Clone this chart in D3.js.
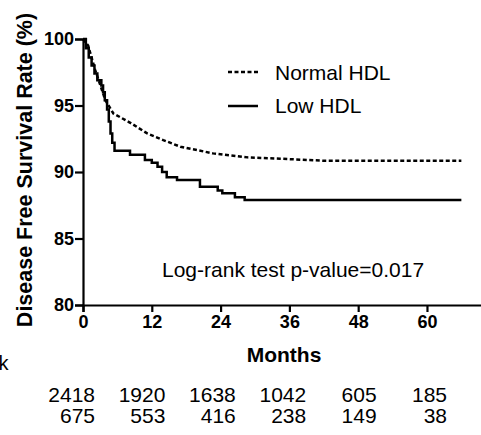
<!DOCTYPE html>
<html>
<head>
<meta charset="utf-8">
<script src="https://cdn.jsdelivr.net/npm/d3@7"></script>
<style>
  body { margin: 0; background: #fff; }
  text { font-family: "Liberation Sans", Arial, sans-serif; fill: #000; }
</style>
</head>
<body>
<div id="chart"></div>
<script>
// Kaplan-Meier curves: [month, survival %]
const lowHDL = [
  [0, 100], [0.5, 99.3], [1.0, 98.6], [1.5, 98.0], [2.0, 97.4], [2.5, 96.9],
  [3.2, 96.5], [3.5, 96.0], [3.8, 95.4], [4.2, 94.7], [4.5, 93.8], [4.8, 92.9],
  [5.1, 92.2], [5.5, 91.6], [8.2, 91.3], [10.8, 90.9], [12.0, 90.7], [13.0, 90.4],
  [13.8, 90.0], [14.6, 89.6], [16.4, 89.4], [20.4, 88.9], [23.5, 88.6], [24.3, 88.4],
  [26.5, 88.1], [28.2, 87.9], [66, 87.9]
];
const normalHDL = [
  [0, 100], [0.9, 99.5], [2.1, 97.7], [3.9, 95.4], [5.3, 94.4], [8.25, 93.7],
  [11.2, 92.9], [14.0, 92.4], [17.0, 91.9], [22.7, 91.4], [28.7, 91.1],
  [34.4, 91.0], [41.9, 90.85], [66, 90.85]
];

const xTicks = [0, 12, 24, 36, 48, 60];
const yTicks = [80, 85, 90, 95, 100];
const riskNormal = [2418, 1920, 1638, 1042, 605, 185];
const riskLow = [675, 553, 416, 238, 149, 38];
const seriesNames = ["Normal HDL", "Low HDL"];

let svg_width = 481;
let svg_height = 435;

let svg = d3.select("#chart")
  .append("svg")
  .attr("width", svg_width)
  .attr("height", svg_height);

// scales
let x = d3.scaleLinear().domain([0, 70]).range([83, 484.3]);
let y = d3.scaleLinear().domain([80, 100]).range([305, 39]);
// risk table columns (right aligned)
let xRisk = d3.scaleLinear().domain([0, 60]).range([95, 447]);

// axes
let xAxis = d3.axisBottom(x).tickValues(xTicks).tickSizeOuter(0).tickSize(7).tickPadding(3);
let yAxis = d3.axisLeft(y).tickValues(yTicks).tickSizeOuter(0).tickSize(8).tickPadding(1);

let gx = svg.append("g")
  .attr("transform", `translate(0, ${y(80)})`)
  .call(xAxis);
let gy = svg.append("g")
  .attr("transform", `translate(${x(0)}, 0)`)
  .call(yAxis);

[gx, gy].forEach(g => {
  g.select(".domain").attr("stroke", "#000").attr("stroke-width", 2.2);
  g.selectAll(".tick line").attr("stroke", "#000").attr("stroke-width", 2.2);
  g.selectAll(".tick text")
    .style("font-family", "'Liberation Sans', Arial, sans-serif")
    .style("font-size", "18px")
    .style("font-weight", "bold")
    .attr("fill", "#000");
});

// curves
let line = d3.line()
  .x(d => x(d[0]))
  .y(d => y(d[1]));

svg.append("path")
  .datum(normalHDL)
  .attr("d", line.curve(d3.curveLinear))
  .attr("fill", "none")
  .attr("stroke", "#000")
  .attr("stroke-width", 2.5)
  .attr("stroke-dasharray", "4,2.5");

svg.append("path")
  .datum(lowHDL)
  .attr("d", line.curve(d3.curveStepAfter))
  .attr("fill", "none")
  .attr("stroke", "#000")
  .attr("stroke-width", 2.5);

// legend
let legend = svg.append("g");
legend.append("line")
  .attr("x1", 228).attr("x2", 258).attr("y1", 72).attr("y2", 72)
  .attr("stroke", "#000").attr("stroke-width", 2.5).attr("stroke-dasharray", "4,2.5");
legend.append("text")
  .attr("x", 275).attr("y", 80)
  .style("font-size", "21px")
  .text(seriesNames[0]);
legend.append("line")
  .attr("x1", 228).attr("x2", 258).attr("y1", 106).attr("y2", 106)
  .attr("stroke", "#000").attr("stroke-width", 2.5);
legend.append("text")
  .attr("x", 275).attr("y", 113)
  .style("font-size", "21px")
  .text(seriesNames[1]);

// log-rank annotation
svg.append("text")
  .attr("x", 162).attr("y", 277)
  .style("font-size", "21px")
  .text("Log-rank test p-value=0.017");

// axis titles
svg.append("text")
  .attr("transform", `translate(32, ${(10 + 330) / 2}) rotate(-90)`)
  .attr("text-anchor", "middle")
  .style("font-size", "21.5px")
  .style("font-weight", "bold")
  .text("Disease Free Survival Rate (%)");

svg.append("text")
  .attr("x", 284).attr("y", 362)
  .attr("text-anchor", "middle")
  .style("font-size", "21px")
  .style("font-weight", "bold")
  .text("Months");

// number at risk
svg.append("text")
  .attr("x", 8.5).attr("y", 370)
  .attr("text-anchor", "end")
  .style("font-size", "20px")
  .text("Number at risk");

svg.selectAll(".riskNormal")
  .data(riskNormal)
  .enter()
  .append("text")
  .attr("class", "riskNormal")
  .attr("x", (d, i) => xRisk(xTicks[i]))
  .attr("y", 402)
  .attr("text-anchor", "end")
  .style("font-size", "21px")
  .text(d => d);

svg.selectAll(".riskLow")
  .data(riskLow)
  .enter()
  .append("text")
  .attr("class", "riskLow")
  .attr("x", (d, i) => xRisk(xTicks[i]))
  .attr("y", 423)
  .attr("text-anchor", "end")
  .style("font-size", "21px")
  .text(d => d);
</script>
</body>
</html>
